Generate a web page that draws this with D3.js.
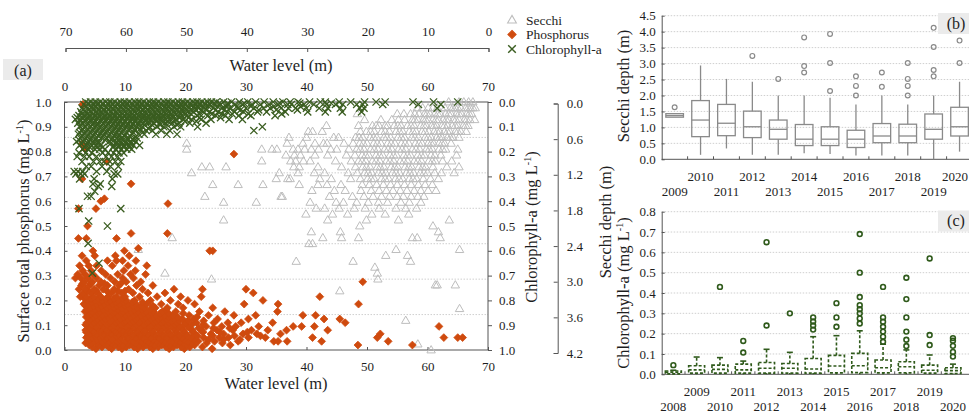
<!DOCTYPE html>
<html><head><meta charset="utf-8">
<script src="https://cdn.jsdelivr.net/npm/d3@7"></script>
<style>body{margin:0;background:#fff;} svg{display:block;}</style>
</head><body><svg id="c" width="969" height="414"></svg>
<script>
// ---------------- DATA ----------------
// Panel (a): Secchi depth (m) by water level (m), rows [depth, water levels]
const secchiRows = [
[0.0,[63.5,65.2,66.0,66.8,67.5]],
[0.1,[58.3,60.1,61.6,62.9,63.8,64.6,65.5,66.3,67.1,67.9]],
[0.1,[59.2,60.9,62.3,64.2,65.0,66.7,67.5]],
[0.2,[48.4,55.0,57.2,58.6,59.5,60.4,61.2,62.1,63.0,63.9,64.8,65.6,66.5,67.3]],
[0.2,[56.1,57.9,59.9,61.7,63.5,65.2,66.9]],
[0.3,[49.6,52.3,54.1,56.2,57.5,58.4,59.3,60.1,60.9,61.8,62.6,63.5,64.3,65.2,66.1,67.0,67.8]],
[0.3,[55.2,57.9,59.7,61.4,63.1,64.7,66.5]],
[0.4,[43.3,48.6,50.9,52.0,53.4,54.5,55.6,56.7,57.8,58.9,59.8,60.7,61.5,62.4,63.3,64.1,65.0,65.9,66.7]],
[0.4,[51.5,53.0,55.1,57.3,59.4,61.1,62.8,64.6,66.3]],
[0.5,[40.3,41.0,42.6,48.9,49.9,51.2,52.4,53.7,54.8,55.9,57.0,58.1,59.1,60.2,61.1,62.0,62.8,63.7,64.6,65.5,66.4]],
[0.5,[50.6,53.0,55.4,57.6,59.6,61.6,63.3,65.0]],
[0.6,[37.1,40.0,44.5,45.3,48.1,49.3,50.5,51.6,52.8,53.9,55.1,56.2,57.4,58.5,59.6,60.6,61.5,62.4,63.3,64.2,65.2]],
[0.6,[48.7,51.1,53.3,55.7,57.9,60.1,62.0,63.8]],
[0.7,[20.2,36.8,39.4,41.4,42.8,43.4,46.2,47.7,48.8,50.0,51.1,52.3,53.4,54.6,55.7,56.9,58.0,59.1,60.1,61.0,61.9,62.8,63.9]],
[0.7,[49.4,51.7,54.0,56.3,58.6,60.6,62.4]],
[0.8,[20.2,32.6,34.3,35.1,37.8,38.6,39.7,40.8,42.0,44.0,45.0,47.0,48.3,49.5,50.6,51.8,52.9,54.1,55.2,56.4,57.5,58.7,59.8,60.8,61.9,63.0,65.0]],
[0.8,[48.9,51.2,53.5,55.8,58.1,60.3,62.5]],
[0.9,[36.6,38.0,39.0,41.4,43.5,46.6,48.0,49.2,50.3,51.5,52.6,53.8,54.9,56.1,57.2,58.4,59.5,60.6,62.2,64.8]],
[0.9,[49.8,52.1,54.4,56.7,59.0,61.2]],
[1.0,[32.6,37.4,38.2,39.5,40.6,44.8,47.4,48.6,49.8,50.9,52.1,53.2,54.4,55.5,56.7,57.8,59.0,60.2,61.3,62.5,64.0]],
[1.0,[49.2,51.5,53.8,56.1,58.4,60.8]],
[1.1,[22.7,24.0,26.7,37.9,38.8,41.9,45.8,48.1,49.3,50.5,51.7,52.8,54.0,55.1,56.3,57.4,58.6,59.7,60.9,63.2,65.2]],
[1.1,[49.9,52.2,54.6,56.9,59.2]],
[1.2,[21.0,35.5,38.6,41.3,43.0,46.9,48.4,49.6,50.8,51.9,53.1,54.2,55.4,56.5,57.7,58.8,60.0,61.2,62.3,64.4]],
[1.2,[50.2,52.5,54.8,57.1,59.4]],
[1.3,[35.0,36.9,37.3,42.2,44.1,47.3,48.9,50.1,51.2,52.4,53.6,54.7,55.9,57.0,58.2,59.3,60.5,61.8]],
[1.3,[50.7,53.0,55.3,57.6]],
[1.4,[24.5,28.7,32.8,38.8,41.9,43.4,45.7,49.2,50.4,51.6,52.7,53.9,55.0,56.2,57.3,58.5,59.6,60.8]],
[1.5,[40.9,44.6,46.4,49.0,50.7,52.0,53.2,54.3,55.5,56.6,57.8,58.9,60.1,61.4]],
[1.6,[23.2,35.8,36.0,43.8,47.6,49.5,51.0,52.4,53.7,55.0,56.0,57.3,58.4,59.4]],
[1.7,[26.3,31.7,40.6,44.9,46.1,48.3,50.2,51.9,53.4,55.6,57.0,58.9]],
[1.8,[41.6,43.0,45.4,47.9,49.7,52.0,54.8,56.4,58.2]],
[1.9,[39.9,44.3,46.8,50.8,53.0,56.9]],
[2.0,[26.3,43.5,49.9,55.2,63.6]],
[2.1,[48.8,60.9]],
[2.2,[40.8,45.6,61.8]],
[2.3,[17.8,42.7,45.8,48.6,57.5,58.3,62.1]],
[2.4,[40.4,41.0]],
[2.5,[12.2,54.8,65.3]],
[2.6,[53.1,56.7]],
[2.7,[38.3,47.7,57.2]],
[2.8,[51.3]],
[2.9,[16.6,51.7]],
[3.0,[24.3,51.8]],
[3.1,[61.3,61.6,64.6]],
[3.2,[45.5]],
[3.5,[65.3]],
[3.7,[56.4]],
[3.8,[21.0,21.5]],
[4.1,[58.4]],
[4.2,[60.6]]
];
// Panel (a): surface total phosphorus (mg/L) by water level, rows [value, water levels]
const phosRows = [
[0.005,[5.2,7.8,9.5,12.1,14.6,17.3,19.8,24.4]],
[0.012,[4.6,6.2,7.3,8.9,10.2,11.5,13.0,14.1,15.5,16.8,18.0,19.3,20.7,22.8]],
[0.02,[4.1,5.6,6.9,8.3,9.6,10.8,12.2,13.5,14.9,16.1,17.4,18.6,20.1,21.5,27.4,48.5,57.5]],
[0.028,[3.5,4.5,5.3,6.5,7.8,9.0,10.4,11.7,12.9,14.2,15.6,16.9,18.2,19.6,21.0,23.5,26.1]],
[0.035,[3.8,4.9,6.2,7.4,8.8,10.1,11.3,12.7,13.8,15.2,16.5,17.8,19.1,20.4,22.1,24.8,28.7,34.6,35.3,36.8,42.5,53.5]],
[0.042,[4.2,5.3,6.7,7.9,9.1,10.6,11.9,13.3,14.6,15.9,17.2,18.5,19.8,21.4,23.8,26.3,29.0]],
[0.05,[3.6,4.6,5.8,7.0,8.1,9.3,10.5,11.8,13.0,14.3,15.6,16.9,18.2,19.4,20.9,23.0,25.6,27.1,30.4,33.2,41.0,51.7,62.7,65.0,65.8]],
[0.057,[3.9,5.1,6.3,7.4,8.6,9.9,11.1,12.5,13.6,14.9,16.3,17.6,18.9,20.3,22.0,24.5,28.1,32.4]],
[0.065,[4.2,5.3,6.5,7.7,8.9,10.0,11.2,12.4,13.7,14.9,16.2,17.5,18.8,20.1,21.6,24.2,26.3,29.5,31.8,35.7,52.2]],
[0.072,[3.6,4.8,5.9,7.1,8.4,9.6,10.8,12.1,13.2,14.5,15.8,17.1,18.4,19.7,21.2,22.9,25.7,30.2]],
[0.08,[3.5,4.7,5.9,7.1,8.3,9.6,10.8,12.0,13.3,14.5,15.8,17.0,18.4,19.7,21.1,22.6,25.2,27.8,30.9,33.6,36.7,43.5]],
[0.088,[4.3,5.5,6.7,7.9,9.1,10.4,11.6,12.8,14.1,15.4,16.7,18.0,19.3,20.7,22.2,24.6,27.3]],
[0.095,[4.0,5.2,6.4,7.5,8.7,10.2,11.5,12.7,13.9,15.2,16.4,17.7,19.0,20.4,23.4,26.0,28.3,32.1,37.8,39.2,41.3,61.9]],
[0.102,[3.5,4.6,5.8,7.0,8.1,9.4,10.6,11.9,13.2,14.4,15.7,17.0,18.3,19.7,21.0,22.9]],
[0.11,[3.7,4.9,6.0,7.3,8.5,9.8,11.0,12.3,13.6,14.8,16.0,17.3,18.6,20.0,21.8,24.7,27.0,29.2,34.4,46.4]],
[0.118,[4.1,5.2,6.4,7.6,8.9,10.1,11.4,12.6,13.9,15.2,16.4,17.7,18.9,20.4,23.0]],
[0.125,[4.3,5.5,6.8,8.0,9.2,10.5,11.7,13.0,14.3,15.5,16.8,18.1,19.5,21.3,25.3,30.4,42.9,45.5]],
[0.133,[3.6,4.8,6.0,7.2,8.4,9.7,10.9,12.1,13.4,14.7,15.9,17.2,18.7,21.9]],
[0.14,[3.9,5.1,6.3,7.6,8.8,10.1,11.4,12.6,13.9,15.1,16.5,17.9,20.6,23.8,28.0,31.6,39.4,41.5]],
[0.148,[4.4,5.6,6.9,8.1,9.4,10.6,11.9,13.1,14.4,15.8,17.2,19.6]],
[0.155,[3.4,4.6,5.8,7.2,8.4,9.7,11.0,12.2,13.5,14.7,16.2,18.4,22.3,26.5,35.2]],
[0.163,[3.7,5.0,6.3,7.6,8.9,10.2,11.5,12.8,14.2,16.8]],
[0.17,[4.4,5.6,7.0,8.2,9.4,10.7,12.0,13.2,15.0,17.0,19.6,24.5]],
[0.178,[3.5,4.8,6.1,7.4,8.7,10.0,11.3,12.7,14.6]],
[0.185,[3.2,4.2,5.3,6.6,7.9,9.1,10.4,11.8,13.6,16.0,18.8,21.5,29.7,35.3,48.6]],
[0.193,[4.5,5.8,7.1,8.4,9.8,11.2,12.9]],
[0.2,[3.8,5.0,6.2,7.5,8.9,10.2,11.6,14.2,17.5,20.4,32.8]],
[0.208,[3.3,4.4,5.6,6.9,8.2,9.6]],
[0.215,[2.6,3.6,4.8,6.0,7.2,8.6,10.0,12.4,15.3,19.2,22.6,42.2]],
[0.23,[3.1,4.3,5.5,7.8,9.4,11.3,13.8,16.6,31.2]],
[0.238,[3.8,5.2,7.0,8.8,10.0]],
[0.245,[2.4,3.5,4.9,6.4,8.2,10.6,12.9,18.1,22.8,30.0]],
[0.26,[2.8,4.1,5.7,7.1,9.0,11.9,14.6]],
[0.268,[3.0,4.4,6.6,9.3]],
[0.275,[3.3,4.6,6.0,8.3,10.2,12.6,49.3]],
[0.29,[1.8,2.7,3.9,5.3,7.6,9.6,11.4]],
[0.305,[2.2,3.4,4.7,6.8,8.8,10.9,13.4]],
[0.32,[3.0,4.4,6.1,9.8,11.7]],
[0.34,[2.5,4.0,5.3,7.9,10.5,13.6]],
[0.36,[3.6,7.1,8.6,9.6,11.8]],
[0.38,[2.9,5.0,8.4,10.7]],
[0.4,[4.7,9.9,24.0,24.5]],
[0.41,[12.2]],
[0.45,[2.3,3.6,8.6]],
[0.47,[11.0,17.0]],
[0.5,[3.8]],
[0.57,[2.3,5.2]],
[0.59,[17.1]],
[0.6,[6.0]],
[0.61,[6.6]],
[0.67,[11.0]],
[0.69,[2.9]],
[0.76,[7.0]],
[0.79,[28.0]],
[0.81,[3.4]],
[0.83,[2.9]],
[0.99,[3.0]]
];
// Panel (a): chlorophyll-a (mg/L) by water level, rows [value, water levels]
const chlRows = [
[0.0,[3.5,4.3,5.1,5.9,6.8,7.5,8.3,9.2,9.9,10.7,11.6,12.3,13.1,14.0,14.7,15.5,16.4,17.1,17.9,18.8,19.5,20.3,21.2,21.9,22.7,23.6,24.3,25.1,26.3,27.6,28.9,30.3,31.6,33.0,34.5,36.1,37.3,38.6,40.5,42.3,43.1,45.4,47.3,49.6,51.5,53.0,57.6,61.0,65.0]],
[0.005,[3.9,4.7,5.5,6.3,7.1,7.9,8.7,9.5,10.3,11.1,11.9,12.7,13.5,14.3,15.1,15.9,16.7,17.5,18.3,19.1,19.9,20.7,21.5,22.3,23.1,23.9,24.7,25.6,27.0,29.7,35.6,38.9,44.1]],
[0.01,[3.2,4.0,4.9,5.6,6.4,7.3,8.0,8.9,9.7,10.4,11.3,12.1,12.8,13.7,14.5,15.2,16.1,16.9,17.6,18.5,19.3,20.0,20.9,21.7,22.4,23.3,24.0,24.9,25.8,27.0,28.2,29.5,31.0,32.4,33.8,35.3,36.9,37.5,39.6,41.2,43.3,44.8,46.0,48.3,49.3,52.6,58.5,62.2]],
[0.018,[3.6,4.5,5.2,6.0,6.9,7.7,8.4,9.3,10.1,10.9,11.7,12.5,13.3,14.2,14.9,15.7,16.6,17.3,18.1,19.0,19.7,20.5,21.4,22.1,22.9,23.8,25.3,26.7,28.5,30.8,34.6,39.0]],
[0.025,[2.9,3.8,4.6,5.4,6.2,7.0,7.9,8.7,9.4,10.2,11.0,11.9,12.6,13.4,14.3,15.0,15.9,16.7,17.4,18.3,19.0,19.9,20.6,21.5,22.2,23.1,24.6,26.0,27.3,28.6,30.0,31.3,32.9,34.0,35.8,37.0,38.2,40.0,42.1,43.5,45.6,48.8,49.5,61.6]],
[0.032,[3.1,4.0,4.8,5.7,6.5,7.3,8.1,8.9,9.8,10.6,11.4,12.2,13.0,13.8,14.6,15.4,16.2,17.1,17.8,18.6,19.4,20.2,21.0,21.8,22.6,23.5,25.0,26.4,29.1,32.1,35.0,38.5]],
[0.04,[2.7,3.5,4.3,5.2,6.0,6.8,7.6,8.5,9.2,10.0,10.9,11.6,12.5,13.2,14.0,14.9,15.6,16.5,17.2,18.0,18.9,19.6,20.4,21.3,22.9,24.0,25.4,26.9,28.1,29.6,31.9,33.4,36.5,40.2,43.1,45.9,49.1]],
[0.048,[2.9,3.8,4.7,5.5,6.3,7.2,8.0,8.8,9.6,10.4,11.2,12.0,12.9,13.6,14.4,15.3,16.0,16.9,17.7,18.4,19.2,20.0,20.9,22.3,24.4,26.0,27.7,30.4,35.9]],
[0.055,[2.4,3.3,4.1,5.0,5.7,6.6,7.4,8.2,9.0,9.8,10.6,11.4,12.2,13.0,13.8,14.6,15.4,16.2,17.0,17.8,18.7,19.4,20.2,21.9,23.7,25.0,26.6,28.8,30.8,34.8]],
[0.063,[2.1,3.0,3.9,4.7,5.5,6.4,7.2,8.0,8.8,9.6,10.5,11.3,12.0,12.9,13.7,14.5,15.3,16.1,17.0,17.9,19.0,20.5,22.3,25.8]],
[0.07,[1.8,2.6,3.6,4.4,5.3,6.1,6.9,7.8,8.6,9.5,10.3,11.1,11.8,12.7,13.5,14.2,15.1,16.0,16.8,17.5,18.5,19.7,21.0,22.6,24.2,27.2,29.4]],
[0.078,[2.6,3.4,4.3,5.1,6.0,6.8,7.6,8.4,9.2,10.0,10.9,11.7,12.5,13.4,14.3,15.2,16.1,17.1,18.2,19.9,21.8]],
[0.085,[2.2,3.0,3.9,4.8,5.5,6.4,7.2,8.1,8.9,9.7,10.5,11.3,12.1,13.0,13.9,14.8,15.7,16.6,17.8,18.9,20.7,23.4]],
[0.093,[2.8,3.7,4.6,5.4,6.2,7.1,7.9,8.8,9.6,10.4,11.3,12.2,13.3,14.5,15.8,17.0,18.6]],
[0.1,[2.5,3.4,4.3,5.1,5.9,6.8,7.7,8.5,9.3,10.2,11.0,11.9,12.9,14.1,15.3,16.4,18.1,19.2,22.0,32.7]],
[0.108,[3.0,3.9,4.8,5.7,6.5,7.4,8.3,9.1,10.0,10.8,11.6,12.5,13.9]],
[0.115,[2.8,3.7,4.6,5.4,6.3,7.1,8.0,8.9,9.7,10.7,11.6,12.6,13.5,14.5,16.0,17.4,31.3]],
[0.123,[2.5,3.4,4.3,5.1,6.0,6.9,7.8,8.6,9.4,10.3,11.4,12.9]],
[0.13,[2.3,3.2,4.0,4.9,5.8,6.6,7.5,8.4,9.1,10.0,11.2,12.3,13.2,15.1,16.9,18.6]],
[0.138,[2.9,3.8,4.7,5.6,6.4,7.3,8.2,9.0,9.9,10.8]],
[0.145,[2.6,3.5,4.4,5.3,6.1,7.0,7.9,8.7,9.5,10.4,11.5,12.0]],
[0.153,[2.4,3.3,4.2,5.1,6.7,7.8,8.9,9.7,10.5,11.3]],
[0.16,[2.0,3.1,4.0,4.7,5.6,7.4,8.6,9.3,10.1,10.9,11.8]],
[0.168,[2.8,3.8,4.9,5.6,7.6,8.6,9.4,10.2,11.0]],
[0.175,[2.5,3.6,4.5,5.2,6.0,8.2,9.0,9.8,10.6,11.4,12.4]],
[0.183,[3.3,4.2,5.4,6.3,8.0,8.9,9.8,10.7]],
[0.19,[3.0,3.9,5.0,5.8,6.7,8.5,9.4,10.3,11.1]],
[0.205,[2.4,3.5,4.5,6.3,7.2,8.1,9.0,9.8]],
[0.22,[2.1,3.3,4.1,5.3,6.9,7.8,8.8]],
[0.24,[2.9,4.8,5.8,6.5,7.5,8.4,9.3]],
[0.26,[3.6,4.4,6.2,7.6,8.9]],
[0.28,[1.6,2.2,3.0,5.3,7.0]],
[0.29,[1.9,2.7,3.3,8.2,8.8]],
[0.31,[2.5,4.9,7.9]],
[0.33,[4.7,5.9]],
[0.34,[5.6,7.8]],
[0.36,[5.0]],
[0.38,[3.8,4.4]],
[0.43,[2.4,9.3]],
[0.48,[4.0]],
[0.5,[7.1]],
[0.57,[3.9]],
[0.65,[5.7]],
[0.69,[4.6]]
];
const waterTicks = [0,10,20,30,40,50,60,70];
const phosTicks = [0,0.1,0.2,0.3,0.4,0.5,0.6,0.7,0.8,0.9,1.0];
const secchiTicks = [0,0.6,1.2,1.8,2.4,3.0,3.6,4.2];

// Panel (b): Secchi depth boxplots
const yearsB = [2009,2010,2011,2012,2013,2014,2015,2016,2017,2018,2019,2020];
const bLow  = [1.32,0.14,0.34,0.14,0.14,0.19,0.17,0.12,0.12,0.12,0.0,0.24];
const bQ1   = [1.32,0.71,0.74,0.68,0.63,0.43,0.43,0.37,0.52,0.52,0.63,0.73];
const bMed  = [1.37,1.23,1.13,1.02,0.94,0.63,0.63,0.63,0.73,0.73,0.94,1.02];
const bQ3   = [1.43,1.84,1.72,1.51,1.23,1.09,1.02,0.91,1.12,1.10,1.42,1.63];
const bHigh = [1.43,2.94,2.52,2.43,2.0,2.0,1.93,1.72,2.0,1.72,2.0,2.43];
const bOut  = [[1.63],[],[],[3.24],[2.52],[2.72,2.92,3.82],[2.14,3.02,3.93],[2.0,2.3,2.6],[2.27,2.72],[2.0,2.3,2.52,3.02],[2.6,2.8,3.52,4.12],[3.02,3.72]];
const bTicks = [0,0.5,1.0,1.5,2.0,2.5,3.0,3.5,4.0,4.5];

// Panel (c): Chlorophyll-a boxplots
const yearsC = [2008,2009,2010,2011,2012,2013,2014,2015,2016,2017,2018,2019,2020];
const cLow  = [0,0,0,0,0,0,0,0,0,0,0,0,0];
const cQ1   = [0.002,0.006,0.006,0.006,0.006,0.006,0.006,0.007,0.008,0.007,0.007,0.006,0.004];
const cMed  = [0.01,0.022,0.024,0.022,0.03,0.03,0.026,0.041,0.042,0.032,0.037,0.02,0.018];
const cQ3   = [0.016,0.042,0.045,0.05,0.058,0.053,0.078,0.093,0.103,0.07,0.062,0.045,0.032];
const cHigh = [0.02,0.085,0.082,0.065,0.123,0.108,0.185,0.19,0.214,0.148,0.12,0.095,0.05];
const cOut  = [[0.045],[],[0.43],[0.107,0.164],[0.24,0.65],[0.30],[0.22,0.24,0.26,0.28],[0.234,0.28,0.35],[0.25,0.275,0.30,0.32,0.34,0.38,0.50,0.69],[0.16,0.185,0.21,0.234,0.259,0.28,0.43],[0.139,0.17,0.21,0.28,0.37,0.475],[0.144,0.193,0.57],[0.087,0.11,0.14,0.165,0.178]];
const cTicks = [0,0.1,0.2,0.3,0.4,0.5,0.6,0.7,0.8];

// ---------------- DRAW ----------------
const FONT = "'Liberation Serif','Times New Roman',serif";
const AX = "#555", GRID = "#cfcfcf", TXT = "#1e1e1e";
const C_SEC = "#bdbdbd", C_PHO = "#cf4a0e", C_CHL = "#3a5d20", C_CBOX = "#2f5a1b", C_BBOX = "#8a8a8a";
const svg = d3.select("#c").attr("font-family", FONT);

function styleAxis(g, fs){
  g.attr("font-family", FONT);
  g.selectAll("text").attr("font-family", FONT).attr("font-size", fs).attr("fill", TXT);
  g.selectAll("line,path").attr("stroke", AX);
}
function flat(rows){ return rows.flatMap(([v, xs]) => xs.map(x => [x, v])); }

// ---- Panel (a)
const L=64.5, R=488, T=102, B=350;
const xA = d3.scaleLinear().domain([0,70]).range([L,R]);
const yP = d3.scaleLinear().domain([0,1]).range([B,T]);
const yC = d3.scaleLinear().domain([0,1]).range([T,B]);
const yS = d3.scaleLinear().domain([0,4.2]).range([T,B]);
const ySax = d3.scaleLinear().domain([0,4.2]).range([103.5,353]);
const xTop = d3.scaleLinear().domain([70,0]).range([65.5,488.5]);

const gA = svg.append("g");
gA.selectAll("line.grid").data(secchiTicks.slice(1,-1)).join("line")
  .attr("x1",L).attr("x2",R).attr("y1",d=>yS(d)).attr("y2",d=>yS(d))
  .attr("stroke",GRID).attr("stroke-dasharray","1.5,1.5");

const gTop = gA.append("g").attr("transform","translate(0,48)")
  .call(d3.axisTop(xTop).tickValues(waterTicks).tickSizeInner(-4).tickSizeOuter(-4).tickPadding(12).tickFormat(d3.format("d")));
styleAxis(gTop, 13);
gA.append("text").attr("x",281).attr("y",71).attr("text-anchor","middle").attr("font-size",16.5).attr("fill",TXT).text("Water level (m)");

const gTop2 = gA.append("g").attr("transform",`translate(0,${T})`)
  .call(d3.axisTop(xA).tickValues(waterTicks).tickSizeInner(0).tickSizeOuter(0).tickPadding(11).tickFormat(d3.format("d")));
styleAxis(gTop2, 13); gTop2.select(".domain").remove();

const gBot = gA.append("g").attr("transform",`translate(0,${B})`)
  .call(d3.axisBottom(xA).tickValues(waterTicks).tickSizeInner(-3).tickSizeOuter(0).tickPadding(12).tickFormat(d3.format("d")));
styleAxis(gBot, 13); gBot.select(".domain").remove();
gA.append("text").attr("x",276).attr("y",389).attr("text-anchor","middle").attr("font-size",16.5).attr("fill",TXT).text("Water level (m)");

const gLeft = gA.append("g").attr("transform",`translate(${L},0)`)
  .call(d3.axisLeft(yP).tickValues(phosTicks).tickSizeInner(-3).tickSizeOuter(0).tickPadding(13).tickFormat(d3.format(".1f")));
styleAxis(gLeft, 13); gLeft.select(".domain").remove();

const gRight = gA.append("g").attr("transform",`translate(${R},0)`)
  .call(d3.axisRight(yC).tickValues(phosTicks).tickSizeInner(4).tickSizeOuter(0).tickPadding(7).tickFormat(d3.format(".1f")));
styleAxis(gRight, 13); gRight.select(".domain").remove();

const gSec = gA.append("g").attr("transform","translate(557.7,0)")
  .call(d3.axisRight(ySax).tickValues(secchiTicks).tickSizeInner(-4).tickSizeOuter(-4).tickPadding(9).tickFormat(d3.format(".1f")));
styleAxis(gSec, 13);

gA.append("rect").attr("x",L).attr("y",T).attr("width",R-L).attr("height",B-T)
  .attr("fill","none").attr("stroke",AX).attr("stroke-width",1);

function rotTitle(g, x, y, main, sup, tail){
  const t = g.append("text").attr("transform",`translate(${x},${y}) rotate(-90)`)
    .attr("text-anchor","middle").attr("font-size",16.5).attr("fill",TXT);
  t.append("tspan").text(main);
  if (sup){
    t.append("tspan").attr("font-size",10).attr("dy",-6).text(sup);
    t.append("tspan").attr("dy",6).text(tail);
  }
  return t;
}
rotTitle(gA, 29, 231, "Surface total phosphorus (mg L", "-1", ")");
rotTitle(gA, 537, 227, "Chlorophyll-a (mg L", "-1", ")");
rotTitle(gA, 611, 222, "Secchi depth (m)");

gA.append("rect").attr("x",3).attr("y",59).attr("width",40).attr("height",21).attr("fill","#ebebeb");
gA.append("text").attr("x",23).attr("y",75.5).attr("text-anchor","middle").attr("font-size",16).attr("fill",TXT).text("(a)");

const TRI = "M0,-4.4L4.2,2.9L-4.2,2.9Z";
const DIA = "M0,-3.9L3.9,0L0,3.9L-3.9,0Z";
const CROSS = "M-3.6,-3.6L3.6,3.6M-3.6,3.6L3.6,-3.6";

gA.append("g").selectAll("path").data(flat(secchiRows)).join("path")
  .attr("d",TRI).attr("transform",d=>`translate(${xA(d[0])},${yS(d[1])})`)
  .attr("fill","none").attr("stroke",C_SEC).attr("stroke-width",1);
gA.append("g").selectAll("path").data(flat(phosRows)).join("path")
  .attr("d",DIA).attr("transform",d=>`translate(${xA(d[0])},${yP(d[1])})`)
  .attr("fill",C_PHO).attr("stroke",C_PHO).attr("stroke-width",0.8).attr("stroke-linejoin","round");
gA.append("g").selectAll("path").data(flat(chlRows)).join("path")
  .attr("d",CROSS).attr("transform",d=>`translate(${xA(d[0])},${yC(d[1])})`)
  .attr("fill","none").attr("stroke",C_CHL).attr("stroke-width",1.3);

const legend = [["Secchi",TRI,"none",C_SEC],["Phosphorus",DIA,C_PHO,C_PHO],["Chlorophyll-a",CROSS,"none",C_CHL]];
const gL = svg.append("g");
legend.forEach((d,i)=>{
  const y = 20 + i*14.5;
  gL.append("path").attr("d",d[1]).attr("transform",`translate(512,${y}) scale(1.05)`)
    .attr("fill",d[2]).attr("stroke",d[3]).attr("stroke-width",d[0]==="Chlorophyll-a"?1.4:1);
  gL.append("text").attr("x",526).attr("y",y+4.5).attr("font-size",13.5).attr("fill",TXT).text(d[0]);
});

// ---- Boxplot helper
function boxPanel(opts){
  const {years, low, q1, med, q3, high, out, ticks, y0, y1, vmax, step, boxW, color, dashed, caps, title, tag, tagY, titleY, fmt, row1, row2} = opts;
  const g = svg.append("g");
  const x0 = 661.7;
  const xb = d3.scaleBand().domain(years).range([x0, x0 + step*years.length]).padding(0);
  const y = d3.scaleLinear().domain([0,vmax]).range([y0,y1]);
  g.selectAll("line.grid").data(ticks.slice(1)).join("line")
    .attr("x1",x0).attr("x2",969).attr("y1",d=>y(d)).attr("y2",d=>y(d))
    .attr("stroke",GRID).attr("stroke-dasharray","1.5,1.5");
  g.append("rect").attr("x",938).attr("y",tagY).attr("width",31).attr("height",21).attr("fill","#ebebeb");
  g.append("text").attr("x",956).attr("y",tagY+15.5).attr("text-anchor","middle").attr("font-size",16).attr("fill",TXT).text(tag);
  const ga = g.append("g").attr("transform",`translate(${x0},0)`)
    .call(d3.axisLeft(y).tickValues(ticks).tickSizeInner(-3).tickSizeOuter(0).tickPadding(6).tickFormat(d3.format(fmt)));
  styleAxis(ga, 13);
  g.append("line").attr("x1",x0).attr("x2",969).attr("y1",y0).attr("y2",y0).attr("stroke",AX);
  g.selectAll("line.xt").data(years.slice(1)).join("line")
    .attr("x1",d=>xb(d)).attr("x2",d=>xb(d)).attr("y1",y0).attr("y2",y0-3).attr("stroke",AX);
  g.selectAll("text.yl").data(years).join("text")
    .attr("x",d=>Math.min(xb(d)+xb.bandwidth()/2, 955)).attr("y",(d,i)=> i%2===0 ? row2 : row1)
    .attr("text-anchor","middle").attr("font-size",13).attr("fill",TXT).text(d=>d);
  const t = g.append("text").attr("transform",`translate(629,${titleY}) rotate(-90)`)
    .attr("text-anchor","middle").attr("font-size",16.5).attr("fill",TXT);
  t.append("tspan").text(title[0]);
  if (title[1]){ t.append("tspan").attr("font-size",10).attr("dy",-6).text(title[1]); t.append("tspan").attr("dy",6).text(title[2]); }
  const dash = dashed ? "3,2" : null;
  years.forEach((yr,i)=>{
    const cx = xb(yr) + xb.bandwidth()/2;
    const gb = g.append("g").attr("stroke",color).attr("fill","none").attr("stroke-width",dashed?1.6:1.3);
    gb.append("line").attr("x1",cx).attr("x2",cx).attr("y1",y(q3[i])).attr("y2",y(high[i])).attr("stroke-dasharray",dash);
    gb.append("line").attr("x1",cx).attr("x2",cx).attr("y1",y(q1[i])).attr("y2",y(low[i])).attr("stroke-dasharray",dash);
    if (caps){ gb.append("line").attr("x1",cx-3).attr("x2",cx+3).attr("y1",y(high[i])).attr("y2",y(high[i])); }
    gb.append("rect").attr("x",cx-boxW/2).attr("width",boxW)
      .attr("y",y(q3[i])).attr("height",Math.max(1,y(q1[i])-y(q3[i]))).attr("stroke-dasharray",dash);
    gb.append("line").attr("x1",cx-boxW/2).attr("x2",cx+boxW/2).attr("y1",y(med[i])).attr("y2",y(med[i])).attr("stroke-dasharray",dash);
    gb.selectAll("circle").data(out[i]).join("circle")
      .attr("cx",cx).attr("cy",d=>y(d)).attr("r",2.4).attr("stroke-width",dashed?1.6:1.2);
  });
}

boxPanel({years:yearsB, low:bLow, q1:bQ1, med:bMed, q3:bQ3, high:bHigh, out:bOut, ticks:bTicks,
  y0:159.3, y1:15.7, vmax:4.5, step:25.9, boxW:17.6, color:C_BBOX, dashed:false, caps:false,
  title:["Secchi depth (m)"], tag:"(b)", tagY:13, titleY:86, fmt:".1f", row1:181, row2:196});
boxPanel({years:yearsC, low:cLow, q1:cQ1, med:cMed, q3:cQ3, high:cHigh, out:cOut, ticks:cTicks,
  y0:374.3, y1:211.7, vmax:0.8, step:23.3, boxW:16, color:C_CBOX, dashed:true, caps:true,
  title:["Chlorophyll-a (mg L","-1",")"], tag:"(c)", tagY:210.5, titleY:293, fmt:".1f", row1:396, row2:411});
</script>
</body></html>
